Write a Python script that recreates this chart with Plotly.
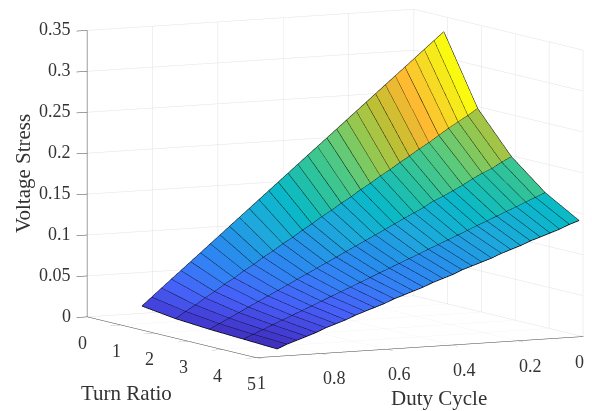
import numpy as np
import plotly.graph_objects as go
from plotly.colors import sample_colorscale

duty = [.012,.042,.072,.101,.131,.161,.191,.221,.250,.280,.310,.340,.370,.399,.429,.459,
        .489,.519,.548,.578,.608,.638,.668,.697,.727,.757,.787,.817,.846,.876,.906,.936]
turn = [1, 2, 3, 4, 5]
stress_t1 = [.3327,.3226,.3125,.3027,.2926,.2825,.2724,.2623,.2525,.2424,.2323,.2222,.2121,.2024,.1923,.1822,
             .1721,.1620,.1522,.1421,.1320,.1219,.1118,.1020,.0919,.0818,.0717,.0616,.0519,.0418,.0316,.0215]
stress_t2 = [.249,.241,.234,.227,.219,.211,.204,.196,.189,.181,.174,.166,.159,.151,.144,.136,
             .129,.121,.114,.106,.099,.091,.084,.076,.069,.061,.054,.046,.039,.031,.024,.016]
stress_t3 = [.200,.194,.187,.182,.176,.169,.163,.157,.152,.145,.139,.133,.127,.121,.115,.109,
             .103,.097,.091,.085,.079,.073,.067,.061,.055,.049,.043,.037,.031,.025,.019,.013]
stress_t4 = [.166,.161,.156,.151,.146,.141,.136,.131,.126,.121,.116,.111,.106,.101,.096,.091,
             .086,.081,.076,.071,.066,.061,.056,.051,.046,.041,.036,.031,.026,.021,.016,.011]
stress_t5 = [.142,.138,.133,.129,.125,.121,.116,.112,.108,.103,.099,.095,.091,.086,.082,.078,
             .073,.069,.065,.061,.056,.052,.048,.044,.039,.035,.031,.026,.022,.018,.014,.009]
duty_ticks = [0, .2, .4, .6, .8, 1]
duty_labels = ["0", "0.2", "0.4", "0.6", "0.8", "1"]
turn_ticks = [0, 1, 2, 3, 4, 5]
turn_labels = ["0", "1", "2", "3", "4", "5"]
stress_ticks = [0, .05, .1, .15, .2, .25, .3, .35]
stress_labels = ["0", "0.05", "0.1", "0.15", "0.2", "0.25", "0.3", "0.35"]

parula = [[0, "#3B2AB0"], [.06, "#4440D8"], [.13, "#4760F8"], [.22, "#3480F5"], [.31, "#2592E8"],
          [.38, "#1EA8DC"], [.48, "#09B9C8"], [.56, "#2AC2A0"], [.64, "#55CA80"], [.72, "#95C850"],
          [.8, "#C8BE30"], [.87, "#FFB833"], [.95, "#F5E020"], [1, "#FAFA10"]]

Z = np.array([stress_t1, stress_t2, stress_t3, stress_t4, stress_t5])
D = np.array(duty)
T = np.array(turn)
nt, nd = Z.shape
X = np.tile(D, nt).ravel()
Y = np.repeat(T, nd)
Zf = Z.ravel()

ii, jj, kk, cell = [], [], [], []
for a in range(nt - 1):
    for b in range(nd - 1):
        p = a * nd + b
        q = p + 1
        r = p + nd
        s = r + 1
        ii += [p, p]
        jj += [q, s]
        kk += [s, r]
        cell += [Z[a, b], Z[a, b]]
cell = np.array(cell)
norm = (cell - Z.min()) / (Z.max() - Z.min())
face = sample_colorscale(parula, norm.tolist())

fig = go.Figure()
fig.add_trace(go.Mesh3d(
    x=X, y=Y, z=Zf, i=ii, j=jj, k=kk, facecolor=face, flatshading=True,
    lighting=dict(ambient=1, diffuse=0, specular=0, roughness=1, fresnel=0),
    hoverinfo="skip"))

ex, ey, ez = [], [], []
for a in range(nt):
    ex += list(D) + [None]
    ey += [T[a]] * nd + [None]
    ez += list(Z[a]) + [None]
for b in range(nd):
    ex += [D[b]] * nt + [None]
    ey += list(T) + [None]
    ez += list(Z[:, b]) + [None]
fig.add_trace(go.Scatter3d(x=ex, y=ey, z=ez, mode="lines",
                           line=dict(color="#000000", width=1.5), hoverinfo="skip",
                           showlegend=False))

def axis(vals, rng):
    return dict(range=rng, tickmode="array", tickvals=vals, title=dict(text=""), showticklabels=False,
                showgrid=True, gridcolor="#e2e2e2", gridwidth=1, showline=True, linecolor="#404040",
                linewidth=1, ticks="outside", ticklen=12, tickcolor="#404040", tickwidth=1,
                zeroline=False, showspikes=False, showbackground=False)

tick_font = dict(family="Liberation Serif", size=18, color="#333333")
tick_notes = []
for v, t in zip(duty_ticks, duty_labels):
    if v == 0:
        tick_notes.append(dict(x=1e-4, y=5, z=0, text=t, showarrow=False, font=tick_font, borderpad=0,
                               xanchor="center", yanchor="middle", xshift=-3, yshift=-25))
    else:
        tick_notes.append(dict(x=v, y=5, z=0, text=t, showarrow=False, font=tick_font, borderpad=0,
                               xanchor="left", yanchor="middle", xshift=0, yshift=-25))
for v, t in zip(turn_ticks, turn_labels):
    tick_notes.append(dict(x=1, y=v, z=0, text=t, showarrow=False, font=tick_font, borderpad=0,
                           xanchor="center", yanchor="middle", xshift=-5, yshift=-26))
for v, t in zip(stress_ticks, stress_labels):
    tick_notes.append(dict(x=1, y=0, z=v, text=t, showarrow=False, font=tick_font, borderpad=0,
                           xanchor="right", yanchor="middle", xshift=-15, yshift=1))

cx, cy, cz = .1425, -.0537, -.145
title_font = dict(family="Liberation Serif", size=21, color="#333333")
fig.update_layout(
    width=592, height=411, margin=dict(l=0, r=0, t=0, b=0), paper_bgcolor="white",
    showlegend=False,
    scene=dict(
        domain=dict(x=[0, 1], y=[0, 1]),
        xaxis=axis(duty_ticks, [0, 1]),
        yaxis=axis(turn_ticks, [0, 5]),
        zaxis=axis(stress_ticks, [0, .35]),
        aspectmode="manual", aspectratio=dict(x=1.79, y=1.79, z=1.405),
        camera=dict(projection=dict(type="orthographic"),
                    eye=dict(x=.456 * 4 + cx, y=.881 * 4 + cy, z=.125 * 4 + cz),
                    up=dict(x=0, y=0, z=1), center=dict(x=cx, y=cy, z=cz)),
        annotations=tick_notes,
    ),
    annotations=[
        dict(text="Voltage Stress", x=15 / 592, y=1 - 166 / 411, xref="paper", yref="paper",
             xanchor="center", yanchor="middle", textangle=-90, showarrow=False, font=title_font),
        dict(text="Turn Ratio", x=118 / 592, y=1 - 385 / 411, xref="paper", yref="paper",
             xanchor="center", yanchor="middle", showarrow=False, font=title_font),
        dict(text="Duty Cycle", x=431 / 592, y=1 - 390 / 411, xref="paper", yref="paper",
             xanchor="center", yanchor="middle", showarrow=False, font=title_font),
    ],
)
fig.write_html("out.html")
